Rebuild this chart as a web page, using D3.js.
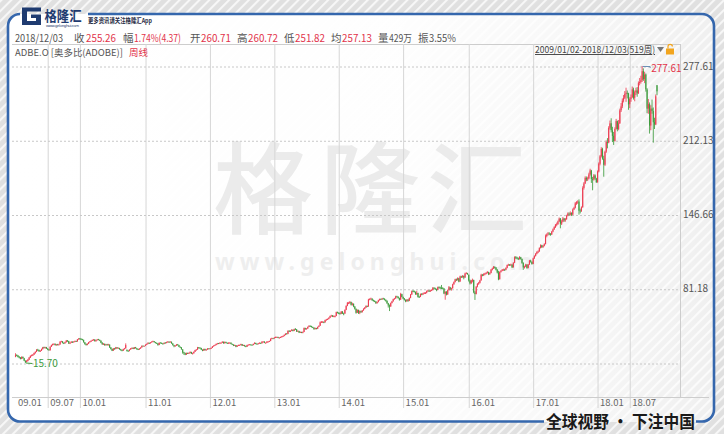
<!DOCTYPE html>
<html><head><meta charset="utf-8">
<script src="https://cdn.jsdelivr.net/npm/d3@7/dist/d3.min.js"></script>
<style>html,body{margin:0;padding:0;background:#e2e2e2;overflow:hidden}svg{display:block}</style>
</head><body><svg id="c" width="724" height="434"></svg>
<script>
// ADBE.O weekly candles 2009/01/02 - 2018/12/03 (519 weeks)
const opens = [
21.2,22.6,22.2,21.1,20.4,19.4,21.1,19.9,17.7,16.6,17.5,18.6,20.4,22.1,22.4,23.1,24.4,25.6,27.4,27.1,25.9,26.6,27.9,29.6,28.9,29.6,28.4,27.6,26.9,30.1,31.4,32.5,32.6,31.4,32.1,31.7,32.1,34.6,34.7,33.4,33.1,34.1,35.4,35.1,32.8,33.6,34.4,34.1,34.4,35.1,34.7,36.6,
37.4,36.9,36.6,36.1,33.9,32.4,31.6,32.6,34.1,34.5,35.4,35.9,36.4,34.9,35.9,36.6,36.1,35.4,33.7,32.4,32.6,31.4,32.2,31.6,31.9,29.4,28.1,26.6,28.4,28.1,29.4,28.8,28.9,27.9,27.1,26.6,28.1,28.6,27.0,26.4,26.3,27.6,28.4,29.1,28.3,29.6,28.7,27.9,27.6,28.4,29.4,30.9,30.7,
30.9,31.9,32.6,33.4,33.1,33.9,34.6,34.9,33.9,33.4,32.9,31.6,33.6,33.4,32.9,32.6,33.6,33.4,34.1,34.4,34.1,34.4,32.9,31.4,30.6,31.1,32.1,31.4,29.9,29.4,27.7,25.1,24.4,23.1,24.4,24.1,24.6,25.4,23.9,24.3,25.6,27.1,27.6,29.4,29.1,28.9,27.4,26.6,28.1,26.9,27.6,28.4,
28.4,28.6,29.1,30.4,31.1,31.6,32.4,33.1,32.9,33.4,33.6,34.4,33.1,34.2,33.4,33.1,33.4,33.6,32.4,31.9,31.1,31.4,30.1,31.1,31.4,31.6,32.3,31.1,31.4,30.6,30.1,31.6,31.9,31.9,31.7,31.6,32.6,33.4,32.6,32.5,33.1,33.4,33.1,34.4,34.6,33.4,33.6,34.4,34.6,35.1,37.1,37.4,
37.5,38.1,38.4,38.6,37.9,38.1,38.6,38.9,39.6,40.4,41.6,41.4,44.1,43.4,44.1,44.9,44.1,45.6,45.4,43.6,43.9,42.6,42.9,42.6,43.1,46.4,45.7,46.1,47.6,48.4,48.1,47.4,46.9,45.6,46.4,45.9,47.6,48.6,51.6,51.9,51.9,51.6,53.6,54.1,54.6,55.6,57.1,57.4,56.9,56.9,57.2,60.4,
59.9,59.6,59.1,61.1,59.4,59.3,62.6,66.1,68.4,68.6,69.4,67.1,67.9,65.4,63.4,60.1,62.4,60.1,61.4,60.6,62.1,63.4,64.6,65.9,65.6,71.6,72.1,72.4,71.1,70.4,69.9,68.6,69.6,71.1,72.1,71.9,72.6,72.4,71.4,70.6,68.4,66.4,65.6,68.6,70.1,72.1,72.6,74.4,74.1,72.9,71.6,76.4,
73.9,72.6,71.4,70.1,71.6,70.6,73.1,76.1,79.1,78.9,78.4,76.6,77.4,74.1,74.1,76.6,76.1,77.1,77.4,77.6,79.1,79.4,79.1,79.6,80.1,81.9,81.4,80.9,80.1,82.6,82.1,81.9,81.6,81.4,76.9,78.6,76.1,80.1,82.4,80.6,81.6,85.1,87.1,89.4,88.8,90.4,87.6,91.9,91.6,92.4,91.1,94.6,94.9,
93.5,88.4,86.1,88.6,88.9,77.9,76.6,83.1,85.6,86.4,88.6,93.4,93.1,94.1,94.4,95.1,95.9,94.1,95.1,97.9,99.1,100.4,99.9,98.1,95.4,89.6,96.1,97.1,97.9,98.1,97.9,99.6,102.1,102.4,102.1,102.4,100.1,104.1,108.9,108.6,107.9,107.6,108.9,107.4,104.1,100.1,100.6,102.4,99.6,102.6,106.1,104.9,
103.1,108.1,110.1,112.1,113.4,114.1,117.1,119.4,118.1,119.1,120.6,127.6,129.1,129.9,129.4,129.1,131.6,133.6,135.4,137.6,138.1,140.6,143.1,138.6,140.4,143.1,141.6,142.6,145.6,147.4,146.6,147.9,146.6,151.1,152.6,156.4,157.6,158.1,150.1,149.6,153.1,170.1,174.1,178.9,177.6,178.4,182.1,185.4,177.9,177.6,181.1,178.4,
175.4,184.6,191.4,198.1,204.4,195.9,190.6,202.1,210.4,210.1,223.1,227.1,220.9,216.1,211.6,222.1,228.9,222.1,227.1,238.6,242.1,247.1,249.6,253.1,253.9,253.4,243.9,248.6,250.1,256.9,249.6,254.6,256.1,253.6,262.6,263.6,265.1,273.1,266.1,270.1,256.9,240.1,243.9,225.1,240.1,237.9,228.1,226.1,260.71
];
const highs = [
24.3,23.4,22.8,21.9,21.0,21.6,21.4,20.2,18.0,18.2,19.3,20.9,22.4,23.1,23.6,24.9,26.0,27.9,28.2,27.5,27.0,28.4,29.9,30.1,30.0,29.9,28.8,28.0,30.4,31.9,32.8,33.1,32.9,32.5,32.6,32.6,34.9,35.3,35.0,33.9,34.5,36.0,35.9,35.3,34.0,34.9,34.8,34.9,35.5,35.4,36.8,37.6,
37.8,37.5,37.0,36.3,34.2,32.9,33.0,34.3,35.0,35.6,36.4,36.8,36.6,36.2,36.9,37.0,36.4,35.6,34.0,33.3,32.8,32.5,32.6,32.6,32.1,29.8,28.3,28.8,29.0,29.9,29.8,29.5,29.1,28.1,27.4,28.3,29.0,33.0,27.8,27.0,27.8,28.9,29.4,29.4,29.8,29.9,28.9,28.2,28.8,29.6,31.2,31.1,31.0,
32.1,32.9,33.9,33.8,34.1,34.9,35.4,35.1,34.3,33.8,33.2,33.8,34.0,33.8,33.2,33.8,34.1,34.5,35.0,34.8,34.9,34.6,33.2,31.7,31.5,32.4,32.5,31.7,30.3,29.7,27.9,25.6,24.8,24.9,24.9,25.0,25.9,25.6,24.8,25.9,27.3,28.0,29.9,29.8,29.6,29.1,27.7,28.3,28.3,27.9,28.8,28.7,
28.9,29.4,30.6,31.3,31.9,32.8,33.4,33.4,33.9,33.9,34.8,34.6,34.6,34.5,33.8,33.9,34.0,33.8,32.8,32.2,31.9,31.6,31.3,31.9,32.0,32.7,32.5,31.8,31.7,30.9,31.8,32.2,32.4,32.3,32.0,32.8,33.9,33.6,32.9,33.4,33.9,33.7,34.8,35.0,34.8,33.9,34.9,35.0,35.4,37.4,38.0,37.8,
38.6,39.0,39.0,38.9,38.5,38.9,39.5,39.9,40.9,41.9,42.1,44.5,44.6,44.5,45.5,45.2,45.9,46.5,45.6,44.5,44.1,43.5,43.3,43.5,47.0,46.8,46.5,47.9,49.0,48.9,48.5,47.8,47.1,46.9,46.7,47.8,48.9,52.3,52.7,52.6,52.4,53.9,54.6,55.0,56.0,57.5,58.2,58.0,57.7,57.6,61.0,61.0,
60.5,60.2,61.5,61.4,60.1,63.0,66.6,69.5,69.6,70.4,69.8,68.9,68.2,65.9,63.8,63.0,62.8,62.0,61.9,62.4,63.9,65.0,66.5,66.4,72.3,72.8,73.3,72.7,71.6,71.0,70.2,69.9,71.5,72.5,72.6,73.1,73.2,72.7,71.8,70.8,68.7,67.3,69.0,70.5,72.4,73.1,75.0,75.0,74.5,73.3,77.6,76.8,
74.3,73.0,71.8,72.0,72.0,73.5,76.6,79.6,80.1,79.6,78.7,79.4,77.7,74.9,77.0,77.3,77.6,78.2,78.3,79.6,80.3,80.1,80.3,80.7,82.7,82.6,82.1,81.3,83.1,83.3,83.0,84.5,82.6,81.7,79.0,79.0,80.5,83.6,82.8,82.1,85.6,87.6,90.0,90.2,91.2,90.8,92.7,92.6,93.2,92.9,95.3,95.8,95.2,
93.8,89.2,89.0,90.1,89.2,79.1,83.5,86.1,87.2,89.0,94.4,94.2,94.8,95.2,95.8,96.7,96.2,95.6,98.6,99.8,101.2,101.0,100.2,98.4,97.0,96.5,97.6,98.6,98.9,98.8,100.1,102.5,103.2,103.0,103.3,102.8,104.6,109.8,110.0,109.4,108.6,109.9,109.3,107.8,104.4,101.5,103.2,102.8,103.0,106.6,106.8,105.3,
108.6,110.7,112.6,114.3,115.0,117.7,120.3,119.9,119.8,121.3,129.0,130.0,131.2,131.0,130.3,132.2,134.3,136.3,138.3,139.5,141.3,144.0,143.5,142.0,144.4,143.6,143.6,146.4,148.5,148.6,149.4,148.6,152.0,153.5,157.6,158.4,159.2,160.0,151.8,153.8,171.5,175.2,180.3,180.2,180.0,183.5,187.0,186.0,179.8,182.3,182.0,179.0,
185.5,192.6,199.2,206.0,205.5,198.5,203.0,212.0,214.0,224.5,229.5,231.5,224.0,219.5,223.5,231.0,229.5,230.0,240.0,245.0,249.0,252.0,255.5,258.5,256.0,254.0,250.0,252.5,259.5,258.5,256.0,258.5,259.0,264.0,267.0,269.0,277.61,275.5,272.5,271.0,258.0,248.5,245.5,243.0,248.0,241.0,232.0,252.5,260.72
];
const lows = [
20.8,21.6,20.6,19.8,18.9,19.1,19.6,17.4,15.70,16.2,17.1,18.3,20.1,21.5,21.9,22.8,24.0,25.3,26.5,25.6,25.4,26.3,27.6,28.6,28.5,28.1,27.0,26.6,26.7,29.8,31.1,31.9,31.1,31.0,31.3,31.3,31.9,34.0,33.0,32.4,32.8,33.8,34.5,32.5,32.4,33.3,33.5,33.8,34.1,34.3,34.5,36.2,
36.3,36.2,35.6,33.7,32.0,31.1,31.3,32.4,33.8,34.2,35.1,35.6,34.6,34.6,35.6,35.8,35.0,33.2,31.6,31.8,30.9,31.1,31.1,31.2,29.0,27.6,26.2,26.4,27.5,27.8,28.3,28.4,27.4,26.6,26.0,26.3,27.7,28.4,25.8,25.9,26.0,27.3,28.1,27.9,28.0,28.4,27.4,27.1,27.3,28.2,29.2,30.3,30.4,
30.6,31.6,32.3,32.6,32.9,33.6,34.2,33.7,33.1,32.6,31.0,31.4,33.1,32.6,32.0,32.3,33.1,33.1,33.8,33.6,33.8,32.7,31.1,29.6,30.2,30.8,31.1,29.7,29.1,27.4,23.9,22.9,22.6,22.8,23.6,23.7,24.3,23.6,23.3,24.0,25.4,26.7,27.3,28.5,28.5,27.1,26.1,26.4,26.7,26.6,27.3,28.0,
28.0,28.3,28.9,30.1,30.8,31.3,32.1,32.4,32.6,33.0,33.3,32.8,32.9,33.2,32.6,32.7,33.1,32.2,31.7,30.6,30.8,29.6,29.8,30.8,31.0,31.3,30.7,30.7,30.2,29.6,29.9,31.3,31.6,31.4,31.2,31.3,32.3,32.2,32.0,32.1,32.8,32.6,32.9,34.0,33.2,33.0,33.3,34.1,34.3,34.9,36.7,36.9,
37.2,37.8,38.0,37.6,37.5,37.8,38.3,38.6,39.3,40.2,41.0,41.1,43.0,43.0,43.8,43.6,43.8,45.0,43.1,43.2,42.1,42.2,42.0,41.9,42.9,45.0,45.3,45.8,47.3,47.6,47.0,46.5,45.1,45.3,45.3,45.6,47.3,48.4,51.0,51.2,50.8,51.3,53.1,53.6,54.2,55.3,56.7,56.2,56.1,55.9,57.0,59.5,
58.8,58.3,58.8,58.9,57.8,59.1,62.3,65.8,67.6,68.0,66.4,66.3,64.9,62.8,59.2,59.8,58.9,58.8,59.9,60.2,61.8,63.0,64.2,65.0,65.3,71.0,71.6,70.5,69.8,69.4,67.8,68.0,69.2,70.7,71.3,71.4,71.8,70.9,69.8,67.8,64.6,61.5,65.2,68.2,69.8,71.6,72.3,73.5,72.4,70.7,71.3,73.6,
71.9,70.8,69.3,69.8,69.7,70.3,72.8,75.8,78.2,77.9,75.8,75.6,73.4,73.2,73.8,75.4,75.6,76.5,76.6,77.1,78.6,78.4,78.5,79.1,79.8,80.7,80.1,79.0,79.9,81.3,81.2,81.0,80.6,76.4,71.5,75.3,75.8,79.6,79.8,79.5,81.3,84.7,86.7,88.0,88.4,86.9,87.3,90.7,90.8,89.5,90.8,94.0,93.5,
87.5,84.9,85.3,86.8,77.2,71.3,76.2,82.4,84.6,85.8,88.3,92.2,92.4,93.1,93.9,94.6,93.2,93.4,94.8,97.3,98.6,99.0,97.3,94.7,88.7,89.3,95.4,96.6,97.1,96.9,97.5,99.2,101.4,101.3,101.4,99.6,99.8,103.8,107.5,107.2,106.5,106.9,106.8,103.2,97.8,99.0,100.2,98.8,99.1,102.3,104.2,102.4,
102.8,107.5,109.6,111.5,112.6,113.8,116.7,117.1,117.2,118.6,120.3,126.5,128.1,128.4,127.9,128.6,131.0,133.0,134.8,136.2,137.6,140.0,134.5,137.4,139.8,140.2,140.3,142.0,145.0,145.5,145.7,145.3,146.0,150.5,152.0,155.2,156.0,146.5,147.6,149.0,152.6,168.6,173.5,176.0,176.2,177.6,181.0,174.5,168.0,176.5,177.2,174.5,
174.6,183.8,190.0,197.0,195.0,180.0,189.5,201.0,205.0,209.5,221.5,219.0,210.5,208.0,211.0,221.5,220.0,221.0,226.5,237.0,240.5,245.5,248.5,246.0,249.0,239.0,240.5,246.0,249.5,248.0,246.5,252.0,250.5,253.0,260.5,262.0,263.5,264.5,262.5,255.0,236.0,235.5,218.0,221.0,235.5,210.0,222.0,225.5,251.82
];
const closes = [
22.5,22.3,21.0,20.5,19.3,21.0,20.0,17.8,16.5,17.6,18.5,20.5,22.0,22.5,23.0,24.5,25.5,27.5,27.0,26.0,26.5,28.0,29.5,29.0,29.5,28.5,27.5,27.0,30.0,31.5,32.4,32.5,31.5,32.0,31.8,32.0,34.5,34.8,33.5,33.0,34.0,35.5,35.0,32.9,33.5,34.5,34.0,34.5,35.0,34.8,36.5,37.3,
36.8,36.7,36.0,34.0,32.3,31.5,32.7,34.0,34.6,35.3,36.0,36.3,35.0,35.8,36.5,36.2,35.5,33.6,32.5,32.5,31.5,32.1,31.5,32.0,29.5,28.0,26.5,28.5,28.0,29.5,28.7,29.0,27.8,27.0,26.5,28.0,28.5,31.5,26.3,26.2,27.5,28.5,29.0,28.2,29.5,28.8,27.8,27.5,28.5,29.3,30.8,30.6,30.8,
31.8,32.5,33.5,33.0,33.8,34.5,35.0,34.0,33.5,33.0,31.5,33.5,33.5,33.0,32.5,33.5,33.5,34.0,34.5,34.0,34.5,33.0,31.5,30.5,31.0,32.0,31.5,30.0,29.5,27.8,25.0,24.5,23.0,24.5,24.0,24.5,25.5,24.0,24.2,25.5,27.0,27.5,29.5,29.0,29.0,27.5,26.5,28.0,27.0,27.5,28.5,28.3,
28.5,29.0,30.3,31.0,31.5,32.5,33.0,32.8,33.5,33.5,34.5,33.0,34.3,33.5,33.0,33.5,33.5,32.5,32.0,31.0,31.5,30.0,31.0,31.5,31.5,32.4,31.0,31.5,30.5,30.0,31.5,31.8,32.0,31.8,31.5,32.5,33.5,32.5,32.4,33.0,33.5,33.0,34.5,34.5,33.5,33.5,34.5,34.5,35.0,37.0,37.5,37.2,
38.0,38.5,38.5,38.0,38.0,38.5,39.0,39.5,40.5,41.5,41.5,44.0,43.5,44.0,45.0,44.0,45.5,45.5,43.5,44.0,42.5,43.0,42.5,43.0,46.5,45.6,46.0,47.5,48.5,48.0,47.5,47.0,45.5,46.5,45.8,47.5,48.5,51.5,52.0,52.0,51.5,53.5,54.0,54.5,55.5,57.0,57.5,56.8,57.0,57.0,60.5,60.0,
59.5,59.0,61.0,59.5,59.2,62.5,66.0,68.5,68.5,69.5,67.0,68.0,65.5,63.5,60.0,62.5,60.0,61.5,60.5,62.0,63.5,64.5,66.0,65.5,71.5,72.0,72.5,71.0,70.5,70.0,68.5,69.5,71.0,72.0,72.0,72.5,72.5,71.5,70.5,68.5,66.5,65.5,68.5,70.0,72.0,72.5,74.5,74.0,73.0,71.5,76.5,74.0,
72.5,71.5,70.0,71.5,70.5,73.0,76.0,79.0,79.0,78.5,76.5,77.5,74.0,74.0,76.5,76.0,77.0,77.5,77.5,79.0,79.5,79.0,79.5,80.0,82.0,81.5,81.0,80.0,82.5,82.0,82.0,81.5,81.5,77.0,78.5,76.0,80.0,82.5,80.5,81.5,85.0,87.0,89.5,88.7,90.5,87.5,92.0,91.5,92.5,91.0,94.5,95.0,94.0,
88.5,86.0,88.5,89.0,78.0,76.5,83.0,85.5,86.5,88.5,93.5,93.0,94.0,94.5,95.0,96.0,94.0,95.0,98.0,99.0,100.5,100.0,98.0,95.5,89.5,96.0,97.0,98.0,98.0,98.0,99.5,102.0,102.5,102.0,102.5,100.0,104.0,109.0,108.5,108.0,107.5,109.0,107.5,104.0,100.0,100.5,102.5,99.5,102.5,106.0,105.0,103.0,
108.0,110.0,112.0,113.5,114.0,117.0,119.5,118.0,119.0,120.5,127.5,129.0,130.0,129.5,129.0,131.5,133.5,135.5,137.5,138.0,140.5,143.0,138.5,140.5,143.0,141.5,142.5,145.5,147.5,146.5,148.0,146.5,151.0,152.5,156.5,157.5,158.0,150.0,149.5,153.0,170.0,174.0,179.0,177.5,178.5,182.0,185.5,178.0,177.5,181.0,178.5,175.2,
184.5,191.5,198.0,204.5,196.0,190.5,202.0,210.5,210.0,223.0,227.0,221.0,216.0,211.5,222.0,229.0,222.0,227.0,238.5,242.0,247.0,249.5,253.0,254.0,253.5,243.8,248.5,250.0,257.0,249.5,254.5,256.0,253.5,262.5,263.5,265.0,273.0,266.0,270.0,257.0,240.0,244.0,225.0,240.0,238.0,228.0,226.0,250.89,255.26
];

// axis ticks
const xTickWeeks  = [0, 26, 52, 105, 157, 209, 261, 313, 366, 418, 470, 496];
const xTickLabels = ["09.01","09.07","10.01","11.01","12.01","13.01","14.01","15.01","16.01","17.01","18.01","18.07"];
const yTickValues = [15.70, 81.18, 146.66, 212.13, 277.61];
const yTickLabels = ["", "81.18", "146.66", "212.13", "277.61"];

// header texts
const headerLabels = ["2018/12/03", "收", "幅", "开", "高", "低", "均", "量", "振"];
const headerValues = ["", "255.26", "1.74%(4.37)", "260.71", "260.72", "251.82", "257.13", "429万", "3.55%"];
const symbolText = "ADBE.O [奥多比(ADOBE)]";
const periodText = "周线";
const rangeText = "2009/01/02-2018/12/03(519周)";
const sloganText = "全球视野 · 下注中国";

const FONT = "'Noto Sans CJK SC','Noto Sans',sans-serif";
const UP = "#ec3d52", DOWN = "#3f9c3f";
const svg = d3.select("#c");
const defs = svg.append("defs");

// stripes
const pat = defs.append("pattern").attr("id","stripes").attr("patternUnits","userSpaceOnUse")
  .attr("width",7).attr("height",7).attr("patternTransform","rotate(45)");
pat.append("rect").attr("width",7).attr("height",7).attr("fill","#e0e0e0");
pat.append("line").attr("x1",1).attr("x2",1).attr("y1",0).attr("y2",7).attr("stroke","#f7f7f7").attr("stroke-width",2.2);
const grad = defs.append("linearGradient").attr("id","inner").attr("x1","0").attr("x2","1").attr("y1","0").attr("y2","0");
[[0,1],[0.55,0.96],[0.75,0.8],[1,0.5]].forEach(([o,a])=>grad.append("stop").attr("offset",o).attr("stop-color","#ffffff").attr("stop-opacity",a));

svg.append("rect").attr("width",724).attr("height",434).attr("fill","url(#stripes)");
svg.append("rect").attr("x",8).attr("y",14).attr("width",706).attr("height",408).attr("rx",12).attr("fill","url(#inner)");

// watermark
svg.append("text").attr("x",213).attr("y",226).text("格隆汇")
  .attr("font-family",FONT).attr("font-weight",500).attr("font-size",100).attr("letter-spacing",7)
  .attr("fill","#ebebeb");
svg.append("text").attr("x",215).attr("y",270).text("www.gelonghui.com")
  .attr("font-family","'Noto Sans',sans-serif").attr("font-weight",700).attr("font-size",23)
  .attr("textLength",317).attr("lengthAdjust","spacing").attr("fill","#eeeeee");

// scales
const n = closes.length;
const x = d3.scaleLinear().domain([0, n-1]).range([15.5, 657]);
const y = d3.scaleLinear().domain([d3.min(lows), d3.max(highs)]).range([363, 66]);
const plotL = 12, plotR = 680, plotT = 44, axisY = 397;

// plot frame lines
svg.append("line").attr("x1",plotL).attr("x2",plotR).attr("y1",plotT+0.5).attr("y2",plotT+0.5).attr("stroke","#cdcdcd");
svg.append("line").attr("x1",plotR+0.5).attr("x2",plotR+0.5).attr("y1",plotT).attr("y2",axisY).attr("stroke","#cdcdcd");

// x axis with gridlines
const xAxis = d3.axisBottom(x).tickValues(xTickWeeks).tickFormat((d,i)=>xTickLabels[i]).tickSize(-(axisY-plotT));
const gx = svg.append("g").attr("transform",`translate(0,${axisY})`).call(xAxis);
gx.select(".domain").remove();
gx.selectAll(".tick line").attr("stroke","#d6d6d6").attr("y2",11).attr("y1",-(axisY-plotT))
  .attr("opacity",(d,i)=>i===0?0:1);
gx.selectAll(".tick text").attr("text-anchor","start").attr("x",2).attr("y",2.5).attr("dy","0.71em")
  .attr("fill","#666").attr("font-size",9.5).attr("font-family",FONT);
svg.append("line").attr("x1",plotL).attr("x2",709).attr("y1",axisY+0.5).attr("y2",axisY+0.5).attr("stroke","#cdcdcd");

// y axis with dashed gridlines
const yAxis = d3.axisRight(y).tickValues(yTickValues).tickFormat((d,i)=>yTickLabels[i]).tickSize(0);
const gy = svg.append("g").attr("transform",`translate(${plotR},0)`).call(yAxis);
gy.select(".domain").remove();
gy.selectAll(".tick text").attr("x",3).attr("fill","#555").attr("font-size",10).attr("font-family",FONT);
gy.selectAll(".tick").append("line").attr("x1",plotL-plotR).attr("x2",0).attr("y1",0.5).attr("y2",0.5)
  .attr("stroke","#c8c8c8").attr("stroke-dasharray","2,2");

// candles
const idx = d3.range(n);
const col = i => closes[i] >= opens[i] ? UP : DOWN;
const gc = svg.append("g");
gc.selectAll("line").data(idx).join("line")
  .attr("x1",i=>x(i)).attr("x2",i=>x(i))
  .attr("y1",i=>y(Math.max(highs[i],opens[i],closes[i])))
  .attr("y2",i=>y(Math.min(lows[i],opens[i],closes[i])))
  .attr("stroke",col).attr("stroke-width",0.85);
gc.selectAll("rect").data(idx).join("rect")
  .attr("x",i=>x(i)-0.55).attr("width",1.1)
  .attr("y",i=>y(Math.max(opens[i],closes[i])))
  .attr("height",i=>Math.max(0.8,Math.abs(y(opens[i])-y(closes[i]))))
  .attr("fill",col);

// max / min annotations
const iMax = d3.maxIndex(highs), iMin = d3.minIndex(lows);
const yMaxP = y(highs[iMax]), yMinP = y(lows[iMin]);
svg.append("path").attr("d",`M${x(iMax)+0.5},${yMaxP+0.5} H${x(iMax)+8} L${x(iMax)+8},${yMaxP+2}`)
  .attr("fill","none").attr("stroke","#6b8fb5").attr("stroke-width",1);
svg.append("text").attr("x",x(iMax)+9).attr("y",yMaxP+3).attr("dy","0.32em").text(d3.format(".2f")(highs[iMax]))
  .attr("fill","#e2334a").attr("font-size",10).attr("font-family",FONT);
svg.append("line").attr("x1",x(iMin)+0.5).attr("x2",x(iMin)+7).attr("y1",yMinP).attr("y2",yMinP+0.5)
  .attr("stroke","#3f9c3f").attr("stroke-width",1);
svg.append("text").attr("x",x(iMin)+7.5).attr("y",yMinP+0.5).attr("dy","0.32em").text(d3.format(".2f")(lows[iMin]))
  .attr("fill","#3f9c3f").attr("font-size",10).attr("font-family",FONT);

// header row
const hx = [15, 74, 123, 190, 237, 284, 331, 378, 418];
const hLen = [48, 0, 0, 0, 0, 0, 0, 0, 0];
const vx = [0, 86, 134, 201, 248, 295, 342, 389, 429];
const vLen = [0, 30, 47, 30, 30, 30, 30, 23, 27];
const valColor = [null,"#e2334a","#e2334a","#e2334a","#e2334a","#e2334a","#e2334a","#555","#555"];
const hdr = svg.append("g").attr("font-family",FONT).attr("font-size",10.5);
headerLabels.forEach((t,i)=>{
  const lt = hdr.append("text").attr("x",hx[i]).attr("y",42).text(t).attr("fill","#555");
  if (hLen[i]) lt.attr("textLength",hLen[i]).attr("lengthAdjust","spacingAndGlyphs");
  if (headerValues[i]) hdr.append("text").attr("x",vx[i]).attr("y",42).text(headerValues[i]).attr("fill",valColor[i])
      .attr("textLength",vLen[i]).attr("lengthAdjust","spacingAndGlyphs");
});
svg.append("text").attr("x",15).attr("y",55.5).text(symbolText).attr("font-family",FONT).attr("font-size",9.5).attr("fill","#555")
  .attr("textLength",108).attr("lengthAdjust","spacingAndGlyphs");
svg.append("text").attr("x",129).attr("y",55.5).text(periodText).attr("font-family",FONT).attr("font-size",9.5).attr("fill","#e2334a");
svg.append("text").attr("x",535).attr("y",53).text(rangeText).attr("font-family",FONT).attr("font-size",9.5)
  .attr("fill","#444").attr("text-decoration","underline").attr("textLength",120).attr("lengthAdjust","spacingAndGlyphs");
svg.append("path").attr("d","M657,47 H664 L660.5,52 Z").attr("fill","#777");
svg.append("rect").attr("x",666).attr("y",48.5).attr("width",8).attr("height",6).attr("fill","#f2a51e");
svg.append("path").attr("d","M668,48.5 V46.5 A2.2,2.2 0 0 1 672.4,46.5").attr("fill","none").attr("stroke","#f2a51e").attr("stroke-width",1.2);

// frame
const frame = svg.append("g").attr("fill","none").attr("stroke","#3567ad").attr("stroke-width",2.6);
frame.append("path").attr("d","M544,421.5 H20 A12,12 0 0 1 8,409.5 V26 A12,12 0 0 1 20,14");
frame.append("path").attr("d","M88,14 H702 A12,12 0 0 1 714,26 V409.5 A12,12 0 0 1 702,421.5 H696");

// logo
svg.append("path").attr("d","M22,7.5 H41 V11.5 H27 V21 H36 V18 H31 V14.5 H41 V25 H22 Z").attr("fill","#1f3b70");
svg.append("text").attr("x",44.5).attr("y",20.5).text("格隆汇").attr("font-family",FONT).attr("font-weight",700)
  .attr("font-size",14).attr("textLength",37).attr("lengthAdjust","spacingAndGlyphs").attr("fill","#1f3b70");
svg.append("text").attr("x",46).attr("y",27).text("www.gelonghui.com").attr("font-family","'Noto Sans',sans-serif")
  .attr("font-size",4).attr("textLength",33).attr("fill","#1f3b70");
svg.append("text").attr("x",88).attr("y",23).text("更多资讯请关注格隆汇App").attr("font-family",FONT).attr("font-weight",700)
  .attr("font-size",6.5).attr("textLength",64).attr("lengthAdjust","spacingAndGlyphs").attr("fill","#1f2a44");

// slogan
svg.append("text").attr("x",546).attr("y",427.5).text(sloganText).attr("font-family",FONT).attr("font-weight",700)
  .attr("font-size",17).attr("textLength",149).attr("lengthAdjust","spacingAndGlyphs").attr("fill","#1a1a1a");
</script></body></html>
